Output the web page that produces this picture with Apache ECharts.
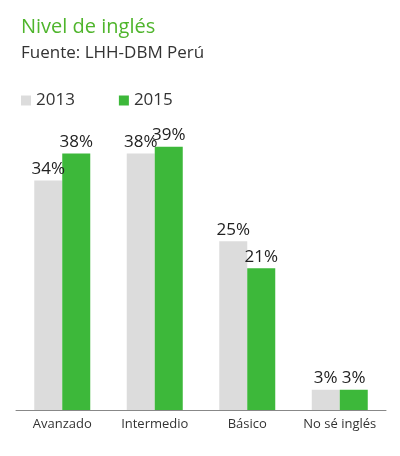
<!DOCTYPE html>
<html><head><meta charset="utf-8">
<script src="https://cdn.jsdelivr.net/npm/echarts@6/dist/echarts.min.js"></script>
<style>body{margin:0;background:#fff}#c{width:400px;height:456px}</style></head>
<body><div id="c"></div>
<script>
const categories = ['Avanzado','Intermedio','Básico','No sé inglés'];
const s2013 = [34,38,25,3];
const s2015 = [38,39,21,3];
const chart = echarts.init(document.getElementById('c'));
const lbl = {show:true,position:'top',formatter:'{c}%',color:'#222',fontSize:17,fontFamily:'Open Sans',distance:3};
chart.setOption({
  animation:false,
  title:{text:'Nivel de inglés',subtext:'Fuente: LHH-DBM Perú',left:16,top:12,itemGap:8,
    textStyle:{color:'#4fb52c',fontSize:20,fontWeight:'normal',fontFamily:'Open Sans'},
    subtextStyle:{color:'#333',fontSize:17,fontFamily:'Open Sans'}},
  legend:{left:16,top:87,itemWidth:10,itemHeight:10,itemGap:44,icon:'rect',
    textStyle:{fontSize:17,color:'#333',fontFamily:'Open Sans'},data:['2013','2015']},
  grid:{left:16,right:14,top:140,bottom:46},
  xAxis:{type:'category',data:categories,axisTick:{show:false},
    axisLine:{lineStyle:{color:'#888'}},axisLabel:{interval:0,color:'#333',fontSize:13,margin:8,fontFamily:'Open Sans'}},
  yAxis:{type:'value',min:0,max:40,show:false,splitLine:{show:false}},
  series:[
    {name:'2013',type:'bar',data:s2013,barWidth:28,barGap:'0%',itemStyle:{color:'#dcdcdc'},label:lbl},
    {name:'2015',type:'bar',data:s2015,barWidth:28,itemStyle:{color:'#3db83a'},label:lbl}
  ]
});
</script></body></html>
